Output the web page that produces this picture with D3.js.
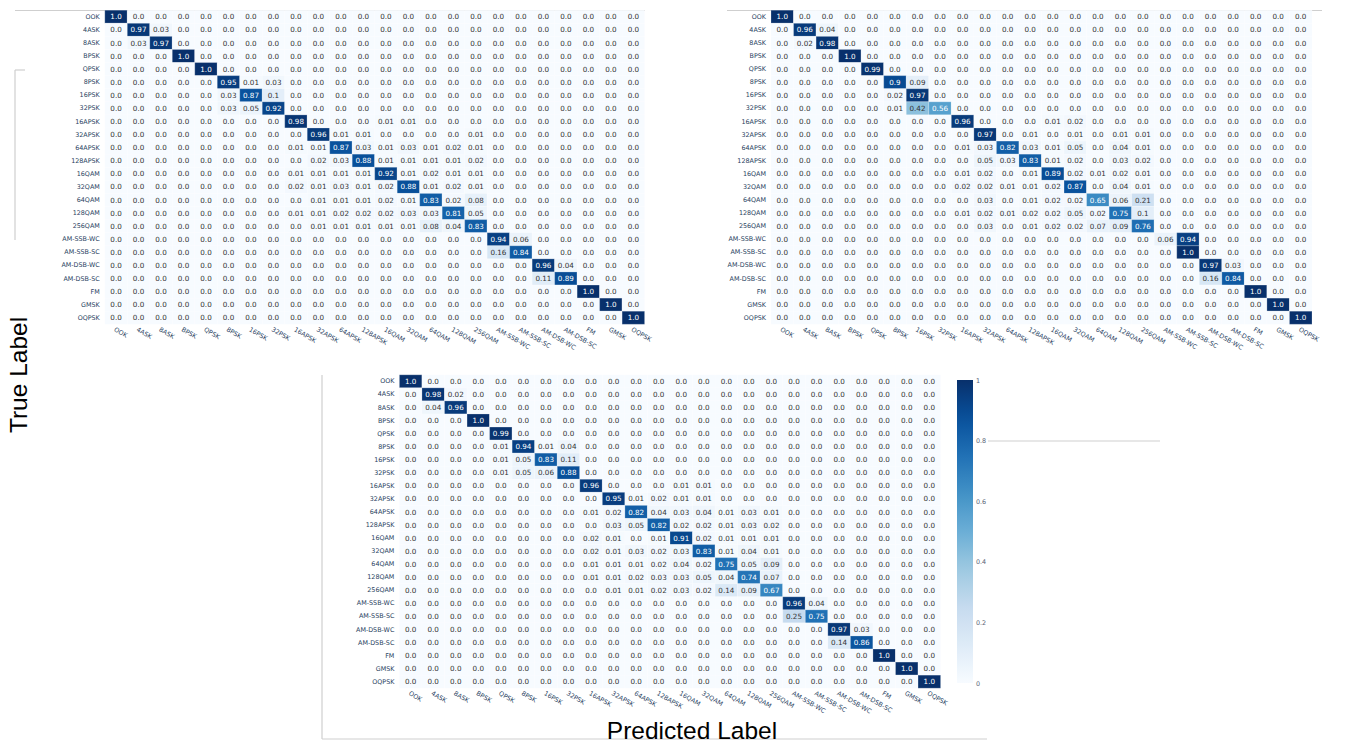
<!DOCTYPE html>
<html>
<head>
<meta charset="utf-8">
<script src="https://cdn.jsdelivr.net/npm/d3@7"></script>
<style>
  html, body { margin: 0; padding: 0; background: #fff; }
  svg { display: block; }
</style>
</head>
<body>
<svg id="fig" width="1360" height="744"></svg>
<script>
// Modulation classes (rows = true label, columns = predicted label)
const classes = ["OOK", "4ASK", "8ASK", "BPSK", "QPSK", "8PSK", "16PSK", "32PSK",
  "16APSK", "32APSK", "64APSK", "128APSK", "16QAM", "32QAM", "64QAM", "128QAM",
  "256QAM", "AM-SSB-WC", "AM-SSB-SC", "AM-DSB-WC", "AM-DSB-SC", "FM", "GMSK", "OQPSK"];

// Normalised confusion matrix, upper-left model
const cmTopLeft = [
  [1,0,0,0,0,0,0,0, 0,0,0,0,0,0,0,0, 0,0,0,0,0,0,0,0],
  [0,.97,.03,0,0,0,0,0, 0,0,0,0,0,0,0,0, 0,0,0,0,0,0,0,0],
  [0,.03,.97,0,0,0,0,0, 0,0,0,0,0,0,0,0, 0,0,0,0,0,0,0,0],
  [0,0,0,1,0,0,0,0, 0,0,0,0,0,0,0,0, 0,0,0,0,0,0,0,0],
  [0,0,0,0,1,0,0,0, 0,0,0,0,0,0,0,0, 0,0,0,0,0,0,0,0],
  [0,0,0,0,0,.95,.01,.03, 0,0,0,0,0,0,0,0, 0,0,0,0,0,0,0,0],
  [0,0,0,0,0,.03,.87,.1, 0,0,0,0,0,0,0,0, 0,0,0,0,0,0,0,0],
  [0,0,0,0,0,.03,.05,.92, 0,0,0,0,0,0,0,0, 0,0,0,0,0,0,0,0],
  [0,0,0,0,0,0,0,0, .98,0,0,0,.01,.01,0,0, 0,0,0,0,0,0,0,0],
  [0,0,0,0,0,0,0,0, 0,.96,.01,.01,0,0,0,0, .01,0,0,0,0,0,0,0],
  [0,0,0,0,0,0,0,0, .01,.01,.87,.03,.01,.03,.01,.02, .01,0,0,0,0,0,0,0],
  [0,0,0,0,0,0,0,0, 0,.02,.03,.88,.01,.01,.01,.01, .02,0,0,0,0,0,0,0],
  [0,0,0,0,0,0,0,0, .01,.01,.01,.01,.92,.01,.02,.01, .01,0,0,0,0,0,0,0],
  [0,0,0,0,0,0,0,0, .02,.01,.03,.01,.02,.88,.01,.02, .01,0,0,0,0,0,0,0],
  [0,0,0,0,0,0,0,0, 0,.01,.01,.01,.02,.01,.83,.02, .08,0,0,0,0,0,0,0],
  [0,0,0,0,0,0,0,0, .01,.01,.02,.02,.02,.03,.03,.81, .05,0,0,0,0,0,0,0],
  [0,0,0,0,0,0,0,0, 0,.01,.01,.01,.01,.01,.08,.04, .83,0,0,0,0,0,0,0],
  [0,0,0,0,0,0,0,0, 0,0,0,0,0,0,0,0, 0,.94,.06,0,0,0,0,0],
  [0,0,0,0,0,0,0,0, 0,0,0,0,0,0,0,0, 0,.16,.84,0,0,0,0,0],
  [0,0,0,0,0,0,0,0, 0,0,0,0,0,0,0,0, 0,0,0,.96,.04,0,0,0],
  [0,0,0,0,0,0,0,0, 0,0,0,0,0,0,0,0, 0,0,0,.11,.89,0,0,0],
  [0,0,0,0,0,0,0,0, 0,0,0,0,0,0,0,0, 0,0,0,0,0,1,0,0],
  [0,0,0,0,0,0,0,0, 0,0,0,0,0,0,0,0, 0,0,0,0,0,0,1,0],
  [0,0,0,0,0,0,0,0, 0,0,0,0,0,0,0,0, 0,0,0,0,0,0,0,1]
];

// Normalised confusion matrix, upper-right model
const cmTopRight = [
  [1,0,0,0,0,0,0,0, 0,0,0,0,0,0,0,0, 0,0,0,0,0,0,0,0],
  [0,.96,.04,0,0,0,0,0, 0,0,0,0,0,0,0,0, 0,0,0,0,0,0,0,0],
  [0,.02,.98,0,0,0,0,0, 0,0,0,0,0,0,0,0, 0,0,0,0,0,0,0,0],
  [0,0,0,1,0,0,0,0, 0,0,0,0,0,0,0,0, 0,0,0,0,0,0,0,0],
  [0,0,0,0,.99,0,0,0, 0,0,0,0,0,0,0,0, 0,0,0,0,0,0,0,0],
  [0,0,0,0,0,.9,.09,0, 0,0,0,0,0,0,0,0, 0,0,0,0,0,0,0,0],
  [0,0,0,0,0,.02,.97,0, 0,0,0,0,0,0,0,0, 0,0,0,0,0,0,0,0],
  [0,0,0,0,0,.01,.42,.56, 0,0,0,0,0,0,0,0, 0,0,0,0,0,0,0,0],
  [0,0,0,0,0,0,0,0, .96,0,0,0,.01,.02,0,0, 0,0,0,0,0,0,0,0],
  [0,0,0,0,0,0,0,0, 0,.97,0,.01,0,.01,0,.01, .01,0,0,0,0,0,0,0],
  [0,0,0,0,0,0,0,0, .01,.03,.82,.03,.01,.05,0,.04, .01,0,0,0,0,0,0,0],
  [0,0,0,0,0,0,0,0, 0,.05,.03,.83,.01,.02,0,.03, .02,0,0,0,0,0,0,0],
  [0,0,0,0,0,0,0,0, .01,.02,0,.01,.89,.02,.01,.02, .01,0,0,0,0,0,0,0],
  [0,0,0,0,0,0,0,0, .02,.02,.01,.01,.02,.87,0,.04, .01,0,0,0,0,0,0,0],
  [0,0,0,0,0,0,0,0, 0,.03,0,.01,.02,.02,.65,.06, .21,0,0,0,0,0,0,0],
  [0,0,0,0,0,0,0,0, .01,.02,.01,.02,.02,.05,.02,.75, .1,0,0,0,0,0,0,0],
  [0,0,0,0,0,0,0,0, 0,.03,0,.01,.02,.02,.07,.09, .76,0,0,0,0,0,0,0],
  [0,0,0,0,0,0,0,0, 0,0,0,0,0,0,0,0, 0,.06,.94,0,0,0,0,0],
  [0,0,0,0,0,0,0,0, 0,0,0,0,0,0,0,0, 0,0,1,0,0,0,0,0],
  [0,0,0,0,0,0,0,0, 0,0,0,0,0,0,0,0, 0,0,0,.97,.03,0,0,0],
  [0,0,0,0,0,0,0,0, 0,0,0,0,0,0,0,0, 0,0,0,.16,.84,0,0,0],
  [0,0,0,0,0,0,0,0, 0,0,0,0,0,0,0,0, 0,0,0,0,0,1,0,0],
  [0,0,0,0,0,0,0,0, 0,0,0,0,0,0,0,0, 0,0,0,0,0,0,1,0],
  [0,0,0,0,0,0,0,0, 0,0,0,0,0,0,0,0, 0,0,0,0,0,0,0,1]
];

// Normalised confusion matrix, lower model
const cmBottom = [
  [1,0,0,0,0,0,0,0, 0,0,0,0,0,0,0,0, 0,0,0,0,0,0,0,0],
  [0,.98,.02,0,0,0,0,0, 0,0,0,0,0,0,0,0, 0,0,0,0,0,0,0,0],
  [0,.04,.96,0,0,0,0,0, 0,0,0,0,0,0,0,0, 0,0,0,0,0,0,0,0],
  [0,0,0,1,0,0,0,0, 0,0,0,0,0,0,0,0, 0,0,0,0,0,0,0,0],
  [0,0,0,0,.99,0,0,0, 0,0,0,0,0,0,0,0, 0,0,0,0,0,0,0,0],
  [0,0,0,0,.01,.94,.01,.04, 0,0,0,0,0,0,0,0, 0,0,0,0,0,0,0,0],
  [0,0,0,0,.01,.05,.83,.11, 0,0,0,0,0,0,0,0, 0,0,0,0,0,0,0,0],
  [0,0,0,0,.01,.05,.06,.88, 0,0,0,0,0,0,0,0, 0,0,0,0,0,0,0,0],
  [0,0,0,0,0,0,0,0, .96,0,0,0,.01,.01,0,0, 0,0,0,0,0,0,0,0],
  [0,0,0,0,0,0,0,0, 0,.95,.01,.02,.01,.01,0,0, 0,0,0,0,0,0,0,0],
  [0,0,0,0,0,0,0,0, .01,.02,.82,.04,.03,.04,.01,.03, .01,0,0,0,0,0,0,0],
  [0,0,0,0,0,0,0,0, 0,.03,.05,.82,.02,.02,.01,.03, .02,0,0,0,0,0,0,0],
  [0,0,0,0,0,0,0,0, .02,.01,0,.01,.91,.02,.01,.01, .01,0,0,0,0,0,0,0],
  [0,0,0,0,0,0,0,0, .02,.01,.03,.02,.03,.83,.01,.04, .01,0,0,0,0,0,0,0],
  [0,0,0,0,0,0,0,0, .01,.01,.01,.02,.04,.02,.75,.05, .09,0,0,0,0,0,0,0],
  [0,0,0,0,0,0,0,0, .01,.01,.02,.03,.03,.05,.04,.74, .07,0,0,0,0,0,0,0],
  [0,0,0,0,0,0,0,0, 0,.01,.01,.02,.03,.02,.14,.09, .67,0,0,0,0,0,0,0],
  [0,0,0,0,0,0,0,0, 0,0,0,0,0,0,0,0, 0,.96,.04,0,0,0,0,0],
  [0,0,0,0,0,0,0,0, 0,0,0,0,0,0,0,0, 0,.25,.75,0,0,0,0,0],
  [0,0,0,0,0,0,0,0, 0,0,0,0,0,0,0,0, 0,0,0,.97,.03,0,0,0],
  [0,0,0,0,0,0,0,0, 0,0,0,0,0,0,0,0, 0,0,0,.14,.86,0,0,0],
  [0,0,0,0,0,0,0,0, 0,0,0,0,0,0,0,0, 0,0,0,0,0,1,0,0],
  [0,0,0,0,0,0,0,0, 0,0,0,0,0,0,0,0, 0,0,0,0,0,0,1,0],
  [0,0,0,0,0,0,0,0, 0,0,0,0,0,0,0,0, 0,0,0,0,0,0,0,1]
];

const colorbarTicks = [0, 0.2, 0.4, 0.6, 0.8, 1];
const yAxisTitle = "True Label";
const xAxisTitle = "Predicted Label";

// "Blues" colour ramp stops
const bluesStops = ["rgb(247,251,255)", "rgb(222,235,247)", "rgb(198,219,239)",
  "rgb(158,202,225)", "rgb(107,174,214)", "rgb(66,146,198)", "rgb(33,113,181)",
  "rgb(8,81,156)", "rgb(8,48,107)"];
const color = d3.scaleLinear()
  .domain(bluesStops.map((_, i) => i / (bluesStops.length - 1)))
  .range(bluesStops)
  .interpolate(d3.interpolateRgb)
  .clamp(true);

const cellFont = "'DejaVu Sans', Verdana, sans-serif";
const tickColor = "#2a3f5f";
const frameColor = "#cfcfcf";

const fmt = v => {
  const s = v.toFixed(2);
  return s.endsWith("0") ? v.toFixed(1) : s;
};

const svg = d3.select("#fig");

// Frame fragments around the panels
const frames = [
  [[15, 10.5], [645, 10.5]],
  [[15, 70], [25, 70]],
  [[15, 70], [15, 240]],
  [[727, 10.5], [1322, 10.5]],
  [[322, 375], [322, 739]],
  [[322, 739], [987, 739]],
  [[988, 441], [1160, 441]]
];
svg.append("g").selectAll("path").data(frames).join("path")
  .attr("d", d => d3.line()(d))
  .attr("fill", "none")
  .attr("stroke", frameColor)
  .attr("stroke-width", 1.2);

function drawMatrix(data, x0, y0, w, h) {
  const g = svg.append("g");
  const x = d3.scaleBand().domain(classes).range([x0, x0 + w]);
  const y = d3.scaleBand().domain(classes).range([y0, y0 + h]);

  const cells = [];
  data.forEach((row, i) => row.forEach((v, j) => cells.push({ r: classes[i], c: classes[j], v })));

  g.append("g").selectAll("rect").data(cells).join("rect")
    .attr("x", d => x(d.c))
    .attr("y", d => y(d.r))
    .attr("width", x.bandwidth())
    .attr("height", y.bandwidth())
    .attr("fill", d => color(d.v))
    .attr("stroke", "rgba(255,255,255,0.22)")
    .attr("stroke-width", 1);

  g.append("g").selectAll("text").data(cells).join("text")
    .attr("x", d => x(d.c) + x.bandwidth() / 2)
    .attr("y", d => y(d.r) + y.bandwidth() / 2)
    .attr("dy", "0.36em")
    .attr("text-anchor", "middle")
    .attr("font-family", cellFont)
    .attr("font-size", 7.2)
    .attr("fill", d => d.v > 0.5 ? "#ffffff" : "#333333")
    .text(d => fmt(d.v));

  const yAxis = g.append("g")
    .attr("transform", `translate(${x0},0)`)
    .call(d3.axisLeft(y).tickSize(0).tickPadding(5));
  yAxis.select(".domain").remove();
  yAxis.selectAll("text")
    .attr("font-family", cellFont)
    .attr("font-size", 6.4)
    .attr("fill", tickColor);

  const xAxis = g.append("g")
    .attr("transform", `translate(0,${y0 + h})`)
    .call(d3.axisBottom(x).tickSize(0));
  xAxis.select(".domain").remove();
  xAxis.selectAll("text")
    .attr("text-anchor", "start")
    .attr("x", 1)
    .attr("y", 3)
    .attr("dy", "0.6em")
    .attr("transform", "rotate(30)")
    .attr("font-family", cellFont)
    .attr("font-size", 6.4)
    .attr("fill", tickColor);
}

drawMatrix(cmTopLeft, 104.8, 10.2, 539.8, 314.1);
drawMatrix(cmTopRight, 771.0, 10.2, 541.0, 314.1);
drawMatrix(cmBottom, 399.4, 374.8, 541.2, 313.4);

// Colour bar
const cbX = 957, cbW = 16, cbTop = 380, cbBottom = 683;
const cbScale = d3.scaleLinear().domain([0, 1]).range([cbBottom, cbTop]);
const defs = svg.append("defs");
const grad = defs.append("linearGradient")
  .attr("id", "bluesGrad")
  .attr("x1", 0).attr("y1", 1).attr("x2", 0).attr("y2", 0);
grad.selectAll("stop").data(d3.range(0, 1.0001, 0.05)).join("stop")
  .attr("offset", d => d)
  .attr("stop-color", d => color(d));
svg.append("rect")
  .attr("x", cbX).attr("y", cbTop)
  .attr("width", cbW).attr("height", cbBottom - cbTop)
  .attr("fill", "url(#bluesGrad)");
const cbAxis = svg.append("g")
  .attr("transform", `translate(${cbX + cbW},0)`)
  .call(d3.axisRight(cbScale).tickValues(colorbarTicks).tickSize(0).tickPadding(3)
    .tickFormat(d => (d === 0 || d === 1) ? String(d) : d.toFixed(1)));
cbAxis.select(".domain").remove();
cbAxis.selectAll("text")
  .attr("font-family", cellFont)
  .attr("font-size", 6.4)
  .attr("fill", "#5a6377");

// Shared axis titles
svg.append("text")
  .attr("transform", "translate(27,375) rotate(-90)")
  .attr("text-anchor", "middle")
  .attr("font-family", "'Liberation Sans', Arial, sans-serif")
  .attr("font-size", 24.5)
  .attr("fill", "#000")
  .text(yAxisTitle);

svg.append("text")
  .attr("x", 692)
  .attr("y", 739)
  .attr("text-anchor", "middle")
  .attr("font-family", "'Liberation Sans', Arial, sans-serif")
  .attr("font-size", 24.5)
  .attr("fill", "#000")
  .text(xAxisTitle);
</script>
</body>
</html>
